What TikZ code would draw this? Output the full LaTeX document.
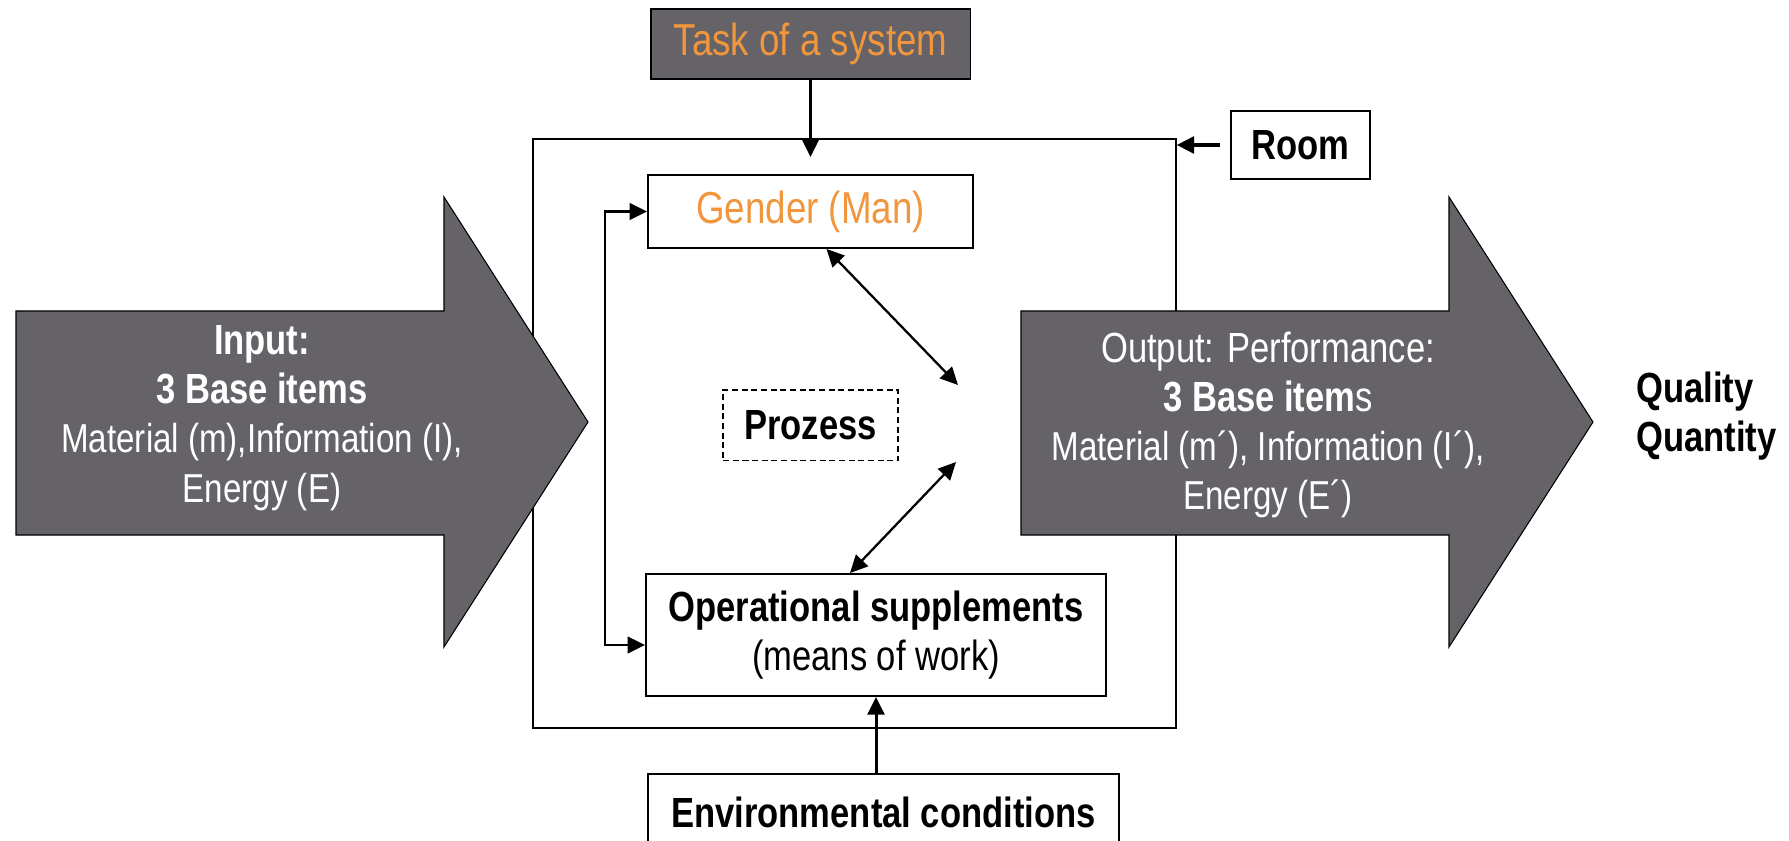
\documentclass[tikz,border=0pt]{standalone}
\usepackage{fontspec}
\setmainfont{Liberation Sans}[FakeStretch=0.82]
\usepackage{tikz}
\usetikzlibrary{arrows.meta, positioning}
\usepackage{xcolor}
\definecolor{arrowgray}{RGB}{101,99,104}
\definecolor{taskorange}{RGB}{241,150,61}

\begin{document}
\begin{tikzpicture}[
    x=0.02cm, y=-0.02cm,
    font=\fontsize{24}{28}\selectfont,
    >={Triangle[length=10pt, width=9.5pt]},
    box/.style={
      draw,
      line width=1.1pt,
      align=center,
      inner sep=0pt
    },
    darkbox/.style={box, fill=arrowgray, text=taskorange},
    process/.style={
      draw,
      dash pattern=on 3.5pt off 2pt,
      line width=0.9pt,
      inner sep=0pt
    },
    frame/.style={draw, line width=0.8pt, inner sep=0pt},
    bigarrow/.style={fill=arrowgray, draw=black, line width=0.6pt},
    arrow/.style={->, line width=1.7pt},
    biarrow/.style={<->, line width=1.3pt},
    arrowtext/.style={text=white, align=center},
    orangetext/.style={font=\fontsize{25.5}{28}\selectfont}
  ]

  \useasboundingbox (0,0) rectangle (1789,841);

  % System boundary
  \node[frame, minimum width=12.86cm, minimum height=11.78cm] (sys) at (854.5,433.5) {};

  % Main components
  \node[box, orangetext, text=taskorange, minimum width=6.5cm, minimum height=1.46cm] (gen) at (810.5,211.5) {Gender (Man)};
  \node[process, minimum width=3.5cm, minimum height=1.42cm, below=2.8cm of gen] (proz) {\textbf{Prozess}};
  \node[box, minimum width=9.2cm, minimum height=2.44cm] (ops) at (876,635) {\textbf{Operational supplements}\\(means of work)};

  % Influences from outside
  \node[darkbox, orangetext, minimum width=6.4cm, minimum height=1.4cm, above=1.88cm of gen] (task) {Task of a system};
  \node[box, minimum width=2.78cm, minimum height=1.36cm] (room) at (1300.5,145) {\textbf{Room}};
  \node[box, minimum width=9.42cm, minimum height=1.52cm] (env) at (883.5,812) {\textbf{Environmental conditions}};

  % Input and output
  \draw[bigarrow] (16,311) -- (444,311) -- (444,197) -- (588,422) -- (444,647) -- (444,535) -- (16,535) -- cycle;
  \draw[bigarrow] (1021,311) -- (1449,311) -- (1449,197) -- (1593,422) -- (1449,647) -- (1449,535) -- (1021,535) -- cycle;

  \node[arrowtext] (inp) at (262,418) {\textbf{Input:}\\\textbf{3 Base items}\\{\fontsize{23}{28}\selectfont Material (m),Information (I),}\\{\fontsize{23}{28}\selectfont Energy (E)}};
  \node[arrowtext] (outp) at (1268,425) {Output: Performance:\\\textbf{3 Base item}s\\{\fontsize{23}{28}\selectfont Material (m´), Information (I´),}\\{\fontsize{23}{28}\selectfont Energy (E´)}};
  \node[align=left, anchor=west] (qual) at (1630,416) {\textbf{Quality}\\\textbf{Quantity}};

  % Connections
  \coordinate (tk) at (810.5,157);
  \draw[arrow] (task) -- (tk);
  \draw[arrow, line width=2.2pt] ([xshift=-0.2cm]room.west) -- (room.west -| sys.east);
  \draw[arrow] (env.north -| ops.south) -- (ops.south);

  % Feedback between man and means of work
  \coordinate (fb) at (605,430);
  \draw[biarrow] (gen.west) -| (fb) |- ([yshift=-0.2cm]ops.west);

  % Interaction with the process
  \coordinate (pu) at (958,385);
  \coordinate (pl) at (956,462);
  \draw[biarrow] ([xshift=0.32cm]gen.south) -- (pu);
  \draw[biarrow] ([xshift=-0.52cm]ops.north) -- (pl);

\end{tikzpicture}
\end{document}
